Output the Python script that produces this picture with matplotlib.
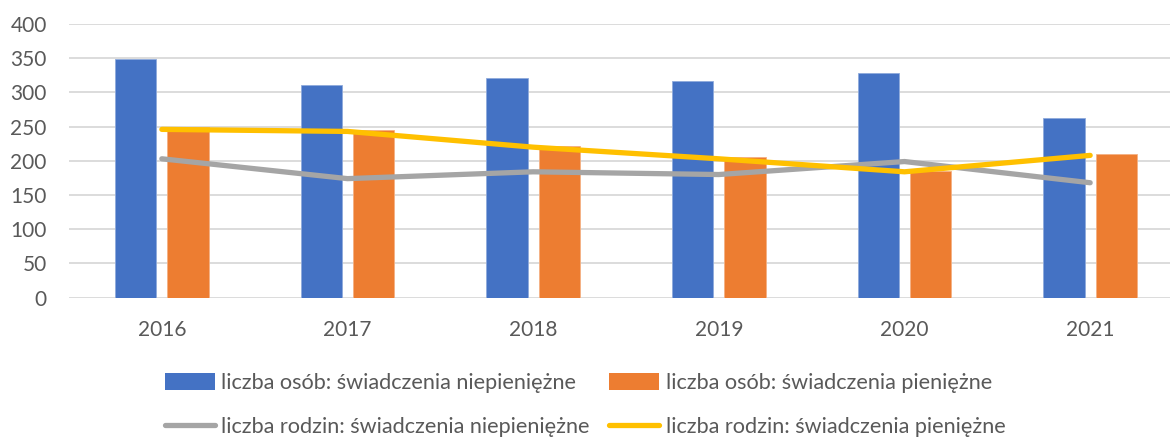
import matplotlib
matplotlib.use("Agg")
import matplotlib.pyplot as plt
import numpy as np
from matplotlib.lines import Line2D
from matplotlib.patches import Patch

years = ["2016", "2017", "2018", "2019", "2020", "2021"]
osoby_niepieniezne = [349, 311, 321, 316, 328, 262]
osoby_pieniezne = [249, 245, 222, 205, 185, 210]
rodziny_niepieniezne = [203, 174, 184, 180, 199, 168]
rodziny_pieniezne = [246, 243, 220, 203, 184, 208]

labels = [
    "liczba osób: świadczenia niepieniężne",
    "liczba osób: świadczenia pieniężne",
    "liczba rodzin: świadczenia niepieniężne",
    "liczba rodzin: świadczenia pieniężne",
]
yticks = [0, 50, 100, 150, 200, 250, 300, 350, 400]

BLUE = "#4472C4"
ORANGE = "#ED7D31"
GRAY = "#A5A5A5"
YELLOW = "#FFC000"
TEXT = "#595959"
GRID = "#D9D9D9"

plt.rcParams["font.family"] = ["Lato", "DejaVu Sans"]

W, H = 1170, 437
fig = plt.figure(figsize=(W / 100, H / 100), dpi=100)
left_px, right_px, top_px, bottom_px = 69, 1183, 24, 297.7
ax = fig.add_axes([left_px / W, 1 - bottom_px / H, (right_px - left_px) / W, (bottom_px - top_px) / H])

x = np.arange(len(years))
bw = 0.221
off = 0.141
ax.bar(x - off, osoby_niepieniezne, width=bw, color=BLUE, edgecolor="#8FAADC", linewidth=0.6, zorder=2)
ax.bar(x + off, osoby_pieniezne, width=bw, color=ORANGE, edgecolor="#F4B183", linewidth=0.6, zorder=2)
ax.plot(x, rodziny_niepieniezne, color=GRAY, lw=3.8, solid_capstyle="round", solid_joinstyle="round", zorder=3)
ax.plot(x, rodziny_pieniezne, color=YELLOW, lw=3.8, solid_capstyle="round", solid_joinstyle="round", zorder=4)

ax.set_xlim(-0.5, 5.5)
ax.set_ylim(0, 400)
ax.set_yticks(yticks)
ax.set_yticklabels([str(v) for v in yticks])
ax.set_xticks(x)
ax.set_xticklabels(years)
ax.grid(axis="y", color=GRID, lw=1.3, zorder=0)
ax.set_axisbelow(True)
for s in ax.spines.values():
    s.set_visible(False)
ax.tick_params(axis="both", length=0, labelsize=15, labelcolor=TEXT)
ax.tick_params(axis="y", pad=16)
ax.tick_params(axis="x", pad=16)

handles = [
    Patch(facecolor=BLUE, edgecolor="none"),
    Line2D([0], [0], color=GRAY, lw=3.8, solid_capstyle="round"),
    Patch(facecolor=ORANGE, edgecolor="none"),
    Line2D([0], [0], color=YELLOW, lw=3.8, solid_capstyle="round"),
]
leg_labels = [labels[0], labels[2], labels[1], labels[3]]
leg = fig.legend(handles, leg_labels, ncol=2, loc="center left",
                 bbox_to_anchor=(165 / W, 1 - 405 / H), frameon=False,
                 fontsize=15.6, labelcolor=TEXT, handlelength=2.3, handleheight=0.8,
                 handletextpad=0.3, columnspacing=0.9, labelspacing=1.1,
                 borderpad=0, borderaxespad=0)

fig.savefig("out.png", dpi=100)
